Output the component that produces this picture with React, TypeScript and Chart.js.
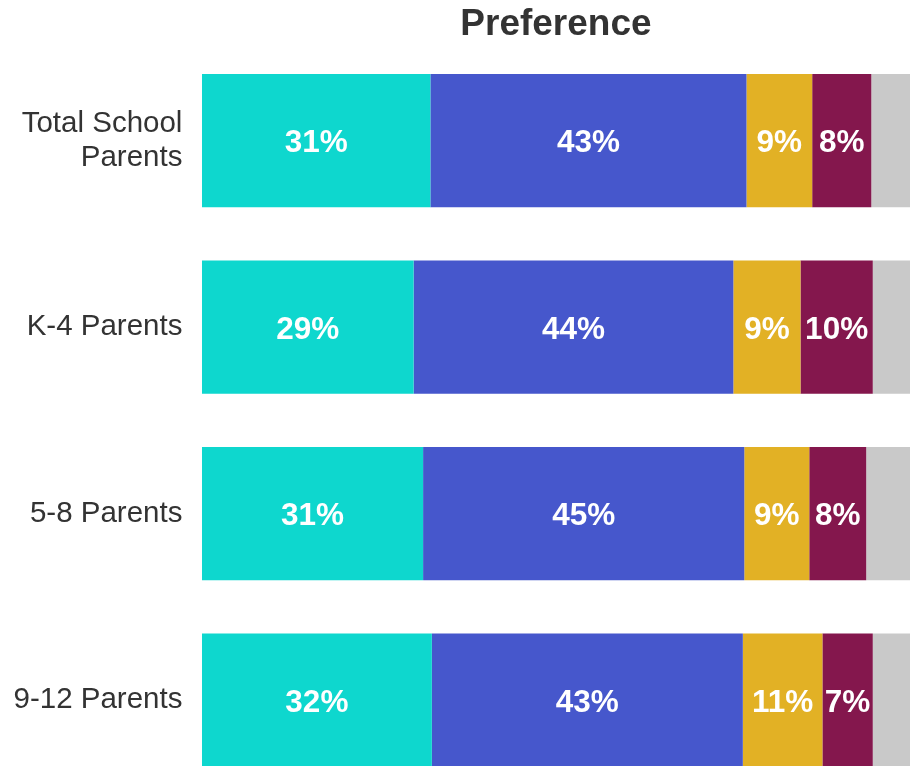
import React, { useEffect, useRef } from "react";
import { Chart, registerables } from "chart.js";

Chart.register(...registerables);

const categories: (string | string[])[] = [["Total School", "Parents"], "K-4 Parents", "5-8 Parents", "9-12 Parents"];
const seriesNames = ["A", "B", "C", "D", "E"];
const teal = [31.3, 29.0, 30.3, 31.5];
const blue = [43.3, 43.8, 44.0, 42.6];
const gold = [9.0, 9.2, 8.9, 10.9];
const maroon = [8.1, 9.9, 7.8, 6.9];
const gray = [8.3, 8.1, 9.0, 8.1];
const tealLabels = ["31%", "29%", "31%", "32%"];
const blueLabels = ["43%", "44%", "45%", "43%"];
const goldLabels = ["9%", "9%", "9%", "11%"];
const maroonLabels = ["8%", "10%", "8%", "7%"];
const grayLabels = ["", "", "", ""];
const colors = ["#0ED7CE", "#4657CC", "#E2B125", "#84174D", "#C9C9C9"];
const xMax = 97;

const FONT = "'Liberation Sans', Arial, Helvetica, sans-serif";

export default function App() {
  const ref = useRef<HTMLCanvasElement | null>(null);
  useEffect(() => {
    if (!ref.current) return;
    const values = [teal, blue, gold, maroon, gray];
    const labels = [tealLabels, blueLabels, goldLabels, maroonLabels, grayLabels];
    const labelPlugin = {
      id: "segLabels",
      afterDatasetsDraw(chart: any) {
        const ctx = chart.ctx;
        ctx.save();
        ctx.fillStyle = "#ffffff";
        ctx.font = `bold 31.5px ${FONT}`;
        ctx.textAlign = "center";
        ctx.textBaseline = "middle";
        chart.data.datasets.forEach((ds: any, di: number) => {
          const meta = chart.getDatasetMeta(di);
          meta.data.forEach((el: any, i: number) => {
            const t = labels[di][i];
            if (!t) return;
            const x = (el.x + el.base) / 2;
            ctx.fillText(t, x, el.y + 3);
          });
        });
        ctx.restore();
      },
    };
    const chart = new Chart(ref.current, {
      type: "bar",
      data: {
        labels: categories as any,
        datasets: values.map((v, i) => ({
          label: seriesNames[i],
          data: v,
          backgroundColor: colors[i],
          borderWidth: 0,
          categoryPercentage: 0.714,
          barPercentage: 1,
        })),
      },
      options: {
        indexAxis: "y",
        responsive: false,
        animation: false,
        layout: { padding: { left: -6, right: 0, top: 0, bottom: 0 } },
        scales: {
          x: { stacked: true, min: 0, max: xMax, display: false },
          y: {
            stacked: true,
            grid: { display: false, drawTicks: false },
            border: { display: false },
            ticks: {
              color: "#333333",
              padding: 19.5,
              font: { family: FONT, size: 29.5, lineHeight: 1.16 },
            },
          },
        },
        plugins: {
          legend: { display: false },
          tooltip: { enabled: false },
          title: {
            display: true,
            text: "Preference",
            fullSize: false,
            color: "#333333",
            font: { family: FONT, size: 37, weight: "bold", lineHeight: 1.2 },
            padding: { top: 3, bottom: 0 },
          },
        },
      },
      plugins: [labelPlugin],
    } as any);
    return () => chart.destroy();
  }, []);
  return (
    <div style={{ position: "absolute", left: 0, top: 0, width: 910, height: 766, overflow: "hidden", background: "#fff" }}>
      <canvas ref={ref} width={910} height={847} style={{ display: "block", width: 910, height: 847 }} />
    </div>
  );
}
